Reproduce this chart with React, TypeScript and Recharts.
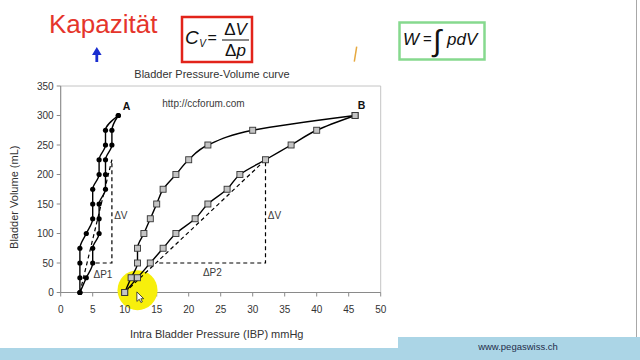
import React from 'react';
import { ScatterChart, Scatter, XAxis, YAxis, ReferenceArea } from 'recharts';

const FONT = '"Liberation Sans", Arial, sans-serif';

// Bladder volume steps (mL) shared by all four branches
const volumeSteps = [0, 25, 50, 75, 100, 125, 150, 175, 200, 225, 250, 275, 300];
// Intra bladder pressure (mmHg) of each branch at those volumes
const curveAFilling = [3, 3, 3, 3, 4, 5, 5, 5, 6, 6, 7, 7, 9];
const curveAEmptying = [3, 4, 5, 5, 6, 6, 6, 7, 7, 7, 8, 8, 9];
const curveBFilling = [10, 11, 12, 12, 13, 14, 15, 16, 18, 20, 23, 30, 46];
const curveBEmptying = [10, 12, 14, 16, 18, 21, 23, 26, 28, 32, 36, 40, 46];

const xTicks = [0, 5, 10, 15, 20, 25, 30, 35, 40, 45, 50];
const yTicks = [0, 50, 100, 150, 200, 250, 300, 350];

// Compliance triangles: chord, ΔV leg, ΔP leg
const triangleAPressure = [3, 8, 8, 5];
const triangleAVolume = [0, 225, 50, 50];
const triangleBPressure = [10, 32, 32, 14.9];
const triangleBVolume = [0, 225, 50, 50];

// Annotations inside the plot
const noteText = ['A', 'B', 'ΔV', 'ΔP1', 'ΔV', 'ΔP2', 'http://ccforum.com'];
const notePressure = [10.3, 47, 9.4, 6.6, 33.4, 23.7, 22.3];
const noteVolume = [316, 318, 130, 31, 131, 34, 320];
const noteBold = [true, true, false, false, false, false, false];

// Presenter highlight and pointer
const highlightAt = [{ p: 12, v: 4 }];
const pointerAt = [{ p: 11.9, v: 1 }];

const branch = (pressures: number[]) => pressures.map((p, i) => ({ p, v: volumeSteps[i] }));
const zipPV = (ps: number[], vs: number[]) => ps.map((p, i) => ({ p, v: vs[i] }));

const aFill = branch(curveAFilling);
const aEmpty = branch(curveAEmptying);
const bFill = branch(curveBFilling);
const bEmpty = branch(curveBEmptying);
const triA = zipPV(triangleAPressure, triangleAVolume);
const triB = zipPV(triangleBPressure, triangleBVolume);
const notes = noteText.map((text, i) => ({ p: notePressure[i], v: noteVolume[i], text, bold: noteBold[i] }));

const Dot = (props: any) => <circle cx={props.cx} cy={props.cy} r={2.6} fill="#000" />;
const Square = (props: any) => (
  <rect x={props.cx - 3} y={props.cy - 3} width={6} height={6} fill="#c4c4c4" stroke="#333" strokeWidth={0.9} />
);
const NoMark = () => <g />;
const Note = (props: any) => (
  <text
    x={props.cx}
    y={props.cy}
    textAnchor="middle"
    dominantBaseline="central"
    fontFamily={FONT}
    fontSize={props.payload.bold ? 10.5 : 10}
    fontWeight={props.payload.bold ? 'bold' : 'normal'}
    fill={props.payload.bold ? '#111' : '#3a3a3a'}
  >
    {props.payload.text}
  </text>
);
const Highlight = (props: any) => <circle cx={props.cx} cy={props.cy} r={20} fill="#f7ef0c" />;
const Pointer = (props: any) => (
  <path
    transform={`translate(${props.cx},${props.cy})`}
    d="M0,0 L0,9.5 L2.4,7.4 L4,10.6 L5.5,9.9 L4,6.8 L6.9,6.8 Z"
    fill="#fff"
    stroke="#222"
    strokeWidth={0.8}
  />
);

const XTitle = (props: any) => {
  const vb = props.viewBox;
  return (
    <text x={vb.x + vb.width / 2 - 4} y={vb.y + 45.5} textAnchor="middle" fontFamily={FONT} fontSize={11} fill="#333">
      Intra Bladder Pressure (IBP) mmHg
    </text>
  );
};
const YTitle = (props: any) => {
  const vb = props.viewBox;
  const cx = vb.x - 2;
  const cy = vb.y + vb.height / 2 + 8;
  return (
    <text
      transform={`translate(${cx},${cy}) rotate(-90)`}
      textAnchor="middle"
      dominantBaseline="central"
      fontFamily={FONT}
      fontSize={11}
      fill="#333"
    >
      Bladder Volume (mL)
    </text>
  );
};

const Slide = () => (
  <svg width={640} height={360} style={{ position: 'absolute', left: 0, top: 0 }}>
    <rect x={0} y={0} width={640} height={360} fill="#fff" />
    {/* footer band */}
    <path d="M0,348 L398,348 L398,337 L640,337 L640,360 L0,360 Z" fill="#abd5e6" />
    <line x1={636.5} y1={0} x2={636.5} y2={337} stroke="#a8a8a8" strokeWidth={1} />
    <text x={518} y={350} textAnchor="middle" fontFamily={FONT} fontSize={9.5} fill="#1f2d4a">
      www.pegaswiss.ch
    </text>

    {/* heading */}
    <text x={49} y={33} fontFamily={FONT} fontSize={26} fill="#e5352b">
      Kapazität
    </text>
    <path d="M96.8,47 L92,55 L95.4,55 L95.4,62 L98.2,62 L98.2,55 L101.6,55 Z" fill="#1a2ed0" />

    {/* compliance formula */}
    <rect x={182} y={17} width={70} height={45} fill="none" stroke="#e2231a" strokeWidth={2.5} />
    <text x={185} y={44} fontFamily={FONT} fontStyle="italic" fill="#111">
      <tspan fontSize={19}>C</tspan>
      <tspan fontSize={10} dx={0.5} dy={3}>
        V
      </tspan>
    </text>
    <text x={207.5} y={43} fontFamily={FONT} fontSize={16} fill="#111">
      =
    </text>
    <text x={235.5} y={35} textAnchor="middle" fontFamily={FONT} fontSize={17} fill="#111">
      Δ<tspan fontStyle="italic">V</tspan>
    </text>
    <line x1={222} y1={40} x2={249} y2={40} stroke="#111" strokeWidth={1} />
    <text x={235.5} y={56} textAnchor="middle" fontFamily={FONT} fontSize={17} fill="#111">
      Δ<tspan fontStyle="italic">p</tspan>
    </text>

    <line x1={356.7} y1={46.7} x2={354.3} y2={61.7} stroke="#e6a940" strokeWidth={1.5} />

    {/* work formula */}
    <rect x={399.5} y={22.5} width={85} height={37} fill="none" stroke="#86d98e" strokeWidth={2.5} />
    <text x={403} y={45} fontFamily={FONT} fontSize={17} fontStyle="italic" fill="#111">
      W
    </text>
    <text x={423} y={44} fontFamily={FONT} fontSize={15} fill="#111">
      =
    </text>
    <text x={433} y={51} fontFamily={FONT} fontSize={30} fill="#111">
      ∫
    </text>
    <text x={447} y={45} fontFamily={FONT} fontSize={17} fontStyle="italic" fill="#111">
      pdV
    </text>

    {/* chart title */}
    <text x={212} y={77.5} textAnchor="middle" fontFamily={FONT} fontSize={11} fill="#333">
      Bladder Pressure-Volume curve
    </text>
  </svg>
);

const curveLine = { stroke: '#000', strokeWidth: 1.4 };
const dashedLine = { stroke: '#000', strokeWidth: 1.2, strokeDasharray: '4 3' };

export default function App() {
  return (
    <div style={{ position: 'fixed', left: 0, top: 0, width: 640, height: 360, overflow: 'hidden', background: '#fff' }}>
      <Slide />
      <div style={{ position: 'absolute', left: 0, top: 0 }}>
        <ScatterChart width={640} height={360} margin={{ top: 86, right: 259.3, bottom: 17.5, left: 15.7 }}>
          <ReferenceArea x1={0} x2={50} y1={0} y2={350} fill="none" stroke="#c4c4c4" strokeWidth={1} />
          <XAxis
            type="number"
            dataKey="p"
            domain={[0, 50]}
            ticks={xTicks}
            interval={0}
            height={50}
            tickSize={4}
            tickMargin={9}
            tick={{ fontSize: 10, fill: '#333', fontFamily: FONT }}
            axisLine={{ stroke: '#8a8a8a' }}
            tickLine={{ stroke: '#8a8a8a' }}
            label={{ content: XTitle }}
          />
          <YAxis
            type="number"
            dataKey="v"
            domain={[0, 350]}
            ticks={yTicks}
            interval={0}
            width={45}
            tickSize={4}
            tickMargin={3}
            tick={{ fontSize: 10, fill: '#333', fontFamily: FONT }}
            axisLine={{ stroke: '#8a8a8a' }}
            tickLine={{ stroke: '#8a8a8a' }}
            label={{ content: YTitle }}
          />
          <Scatter data={highlightAt} shape={Highlight} isAnimationActive={false} />
          <Scatter data={triA} shape={NoMark} line={dashedLine} lineType="joint" isAnimationActive={false} />
          <Scatter data={triB} shape={NoMark} line={dashedLine} lineType="joint" isAnimationActive={false} />
          <Scatter data={aFill} shape={Dot} line={curveLine} lineType="joint" lineJointType="monotoneY" isAnimationActive={false} />
          <Scatter data={aEmpty} shape={Dot} line={curveLine} lineType="joint" lineJointType="monotoneY" isAnimationActive={false} />
          <Scatter data={bFill} shape={Square} line={curveLine} lineType="joint" lineJointType="monotoneY" isAnimationActive={false} />
          <Scatter data={bEmpty} shape={Square} line={curveLine} lineType="joint" lineJointType="monotoneY" isAnimationActive={false} />
          <Scatter data={notes} shape={Note} isAnimationActive={false} />
          <Scatter data={pointerAt} shape={Pointer} isAnimationActive={false} />
        </ScatterChart>
      </div>
    </div>
  );
}
